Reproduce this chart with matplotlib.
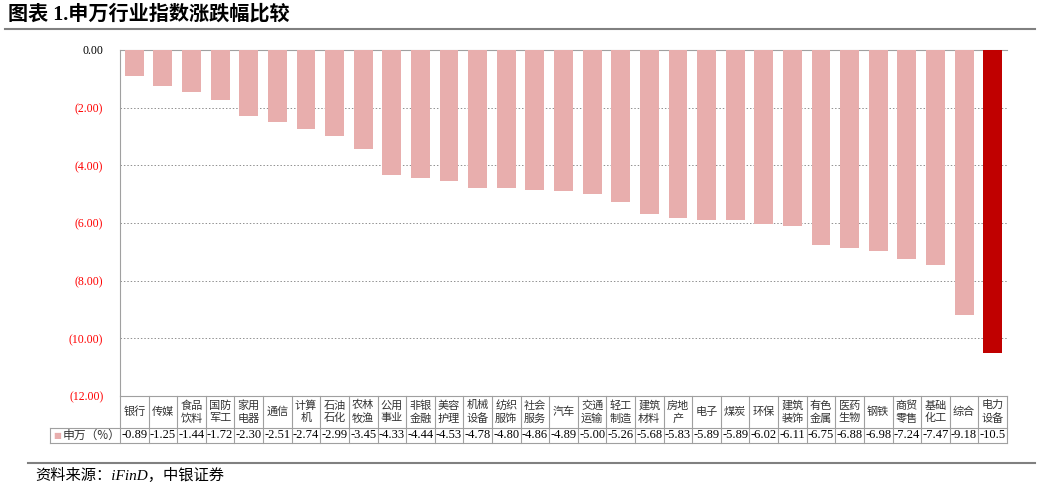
import matplotlib.pyplot as plt
from matplotlib.lines import Line2D
import numpy as np

plt.rcParams['font.family'] = ['Liberation Serif', 'Noto Sans CJK SC']

industries = ["银行", "传媒", "食品\n饮料", "国防\n军工", "家用\n电器", "通信", "计算\n机",
              "石油\n石化", "农林\n牧渔", "公用\n事业", "非银\n金融", "美容\n护理", "机械\n设备",
              "纺织\n服饰", "社会\n服务", "汽车", "交通\n运输", "轻工\n制造", "建筑\n材料",
              "房地\n产", "电子", "煤炭", "环保", "建筑\n装饰", "有色\n金属", "医药\n生物",
              "钢铁", "商贸\n零售", "基础\n化工", "综合", "电力\n设备"]
changes = [-0.89, -1.25, -1.44, -1.72, -2.30, -2.51, -2.74, -2.99, -3.45, -4.33, -4.44,
           -4.53, -4.78, -4.80, -4.86, -4.89, -5.00, -5.26, -5.68, -5.83, -5.89, -5.89,
           -6.02, -6.11, -6.75, -6.88, -6.98, -7.24, -7.47, -9.18, -10.5]
value_labels = ["%.2f" % v for v in changes[:-1]] + ["-10.5"]
series_name = "申万（%）"

W, H = 1045, 488
fig = plt.figure(figsize=(W / 100, H / 100), dpi=100)
ax_l, ax_r, ax_t, ax_b = 120, 1007, 50, 396
ax = fig.add_axes([ax_l / W, 1 - ax_b / H, (ax_r - ax_l) / W, (ax_b - ax_t) / H])

pink = "#E8AEAD"
colors = [pink] * (len(changes) - 1) + ["#C00000"]
x = np.arange(len(changes))
ax.bar(x, changes, width=0.66, color=colors, zorder=3)
ax.set_xlim(-0.5, len(changes) - 0.5)
ax.set_ylim(-12, 0)
yt = np.arange(0, -13, -2)
ax.set_yticks(yt)
ax.set_yticklabels(["0.00"] + ["(%.2f)" % abs(v) for v in yt[1:]], fontsize=8.5)
for lbl in ax.get_yticklabels()[1:]:
    lbl.set_color("red")
ax.set_xticks([])
ax.tick_params(axis='y', length=0, pad=12)
ax.grid(axis='y', linestyle=(0, (1.5, 2)), color="#909090", linewidth=0.7, zorder=0)
for s in ["right", "bottom"]:
    ax.spines[s].set_visible(False)
ax.spines["top"].set_color("#A0A0A0")
ax.spines["left"].set_color("#A0A0A0")

# table under the chart, in figure pixel coordinates
def fx(px):
    return px / W

def fy(py):
    return 1 - py / H

gc = "#A0A0A0"
col_w = (ax_r - ax_l) / len(changes)
row1_top, row2_top, row2_bot = 396, 428, 443
tab_left = 50

def hline(y, x0, x1):
    fig.add_artist(Line2D([fx(x0), fx(x1)], [fy(y), fy(y)], color=gc, lw=0.8))

def vline(xp, y0, y1):
    fig.add_artist(Line2D([fx(xp), fx(xp)], [fy(y0), fy(y1)], color=gc, lw=0.8))

hline(row1_top, ax_l, ax_r)
hline(row2_top, tab_left, ax_r)
hline(row2_bot, tab_left, ax_r)
vline(tab_left, row2_top, row2_bot)
vline(ax_l, row1_top, row2_bot)
for i in range(len(changes)):
    xr = ax_l + (i + 1) * col_w
    vline(xr, row1_top, row2_bot)
    xc = ax_l + (i + 0.5) * col_w
    fig.text(fx(xc), fy((row1_top + row2_top) / 2), industries[i], ha="center", va="center",
             fontsize=8, family=["Noto Sans CJK SC"], color="#333333", linespacing=1.3)
    fig.text(fx(xc), fy((row2_top + row2_bot) / 2), value_labels[i], ha="center", va="center",
             fontsize=9, color="black")

fig.text(fx(57), fy((row2_top + row2_bot) / 2), "■", ha="center", va="center",
         fontsize=6, color=pink, family=["DejaVu Sans"])
fig.text(fx(63), fy((row2_top + row2_bot) / 2), series_name, ha="left", va="center",
         fontsize=8.5, family=["Noto Sans CJK SC"], color="#333333")

# title and source
fig.text(fx(8), fy(15), "图表 1.申万行业指数涨跌幅比较", ha="left", va="center",
         fontsize=14.5, fontweight="bold", family=["Liberation Serif", "Noto Sans CJK SC"])
fig.add_artist(Line2D([fx(5), fx(1035)], [fy(29), fy(29)], color="#808080", lw=1.5))
fig.add_artist(Line2D([fx(28), fx(1035)], [fy(463), fy(463)], color="#808080", lw=1.5))
fig.text(fx(35), fy(475), "资料来源：iFinD，中银证券", ha="left", va="center",
         fontsize=11, style="italic", family=["Liberation Serif", "Noto Sans CJK SC"])

fig.savefig("out.png", dpi=100)
